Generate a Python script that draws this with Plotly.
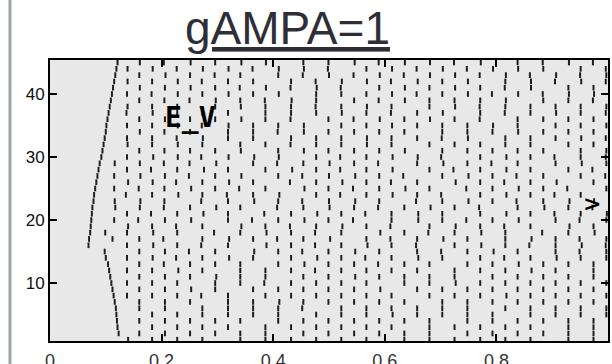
import plotly.graph_objects as go

# ---- data (spike times in ms for each neuron, read from the raster) ----
n45 = [121, 161, 204, 252, 296, 343, 387, 454, 499, 546, 589, 636, 681, 724, 772, 838, 883, 930, 973]
n44 = [119, 139, 184, 227, 274, 320, 363, 410, 455, 498, 567, 613, 657, 704, 747, 794, 839, 884, 951, 996]
n43 = [117, 160, 207, 251, 295, 341, 409, 453, 500, 544, 591, 634, 681, 726, 770, 817, 860, 907, 950, 997]
n42 = [115, 139, 183, 229, 272, 319, 364, 432, 476, 523, 568, 611, 659, 703, 749, 816, 862, 905, 952, 996]
n41 = [113, 161, 206, 252, 296, 340, 387, 431, 478, 521, 590, 636, 680, 726, 771, 815, 862, 929, 974]
n40 = [111, 138, 182, 229, 273, 320, 364, 410, 477, 522, 567, 613, 657, 703, 749, 792, 839, 883, 930, 975]
n39 = [109, 160, 205, 250, 297, 341, 385, 433, 477, 545, 589, 636, 680, 725, 771, 817, 884, 929, 973]
n38 = [107, 139, 183, 228, 296, 342, 386, 432, 476, 522, 568, 612, 680, 726, 770, 816, 861, 906, 951, 997]
n37 = [105, 137, 184, 228, 273, 319, 386, 432, 477, 523, 567, 611, 658, 704, 771, 815, 861, 907, 951, 996]
n36 = [103, 160, 206, 251, 296, 343, 386, 431, 499, 544, 591, 635, 681, 725, 770, 838, 884, 929, 974]
n35 = [101, 138, 183, 229, 272, 320, 364, 409, 455, 522, 567, 613, 658, 703, 748, 794, 838, 906, 951, 997]
n34 = [100, 161, 205, 251, 319, 364, 408, 455, 499, 545, 590, 635, 703, 748, 793, 839, 884, 929, 974]
n33 = [98, 138, 183, 227, 274, 319, 364, 432, 477, 522, 568, 612, 658, 702, 749, 816, 861, 906, 952, 996]
n32 = [96, 139, 183, 229, 273, 341, 386, 431, 477, 522, 568, 612, 680, 725, 771, 816, 861, 929, 974]
n31 = [94, 160, 205, 251, 296, 342, 409, 455, 499, 545, 590, 636, 703, 748, 793, 838, 884, 951, 997]
n30 = [92, 138, 185, 229, 271, 320, 366, 410, 477, 520, 567, 614, 659, 701, 771, 818, 861, 904, 951, 996]
n29 = [89, 116, 161, 204, 250, 298, 364, 407, 454, 501, 545, 588, 658, 705, 748, 791, 838, 906, 953, 997]
n28 = [87, 138, 181, 228, 276, 319, 386, 434, 477, 520, 567, 614, 680, 723, 771, 818, 861, 929, 972]
n27 = [85, 115, 162, 206, 249, 296, 343, 409, 452, 500, 547, 590, 633, 703, 750, 793, 836, 884, 951, 995]
n26 = [83, 140, 184, 226, 273, 321, 364, 430, 477, 524, 567, 611, 658, 727, 771, 814, 861, 908, 974]
n25 = [81, 115, 159, 205, 253, 296, 339, 386, 456, 499, 543, 590, 637, 680, 746, 793, 840, 884, 927, 997]
n24 = [79, 136, 183, 230, 273, 317, 364, 411, 477, 520, 567, 614, 658, 701, 771, 818, 861, 904, 951]
n23 = [78, 116, 162, 205, 271, 319, 366, 409, 452, 500, 547, 590, 656, 703, 750, 793, 836, 884, 931, 975]
n22 = [76, 117, 161, 204, 251, 298, 341, 407, 454, 501, 545, 588, 635, 682, 725, 769, 838, 886, 929, 972]
n21 = [75, 138, 181, 228, 275, 319, 384, 432, 479, 522, 565, 612, 660, 703, 771, 818, 861, 904, 951, 998]
n20 = [74, 115, 158, 206, 253, 319, 362, 409, 456, 499, 543, 612, 660, 703, 746, 793, 840, 906, 949, 997]
n19 = [73, 140, 183, 226, 273, 343, 386, 430, 477, 524, 567, 610, 680, 727, 771, 814, 861, 931, 974]
n18 = [72, 99, 138, 185, 228, 294, 341, 388, 432, 475, 522, 592, 635, 678, 725, 773, 816, 882, 929, 976]
n17 = [70, 112, 160, 203, 273, 321, 364, 407, 454, 502, 567, 610, 658, 705, 748, 816, 863, 906, 949, 997]
n16 = [69, 138, 185, 228, 271, 319, 388, 432, 475, 522, 569, 612, 656, 725, 773, 816, 859, 906, 953, 996]
n15 = [98, 160, 206, 249, 296, 366, 409, 452, 499, 547, 590, 658, 701, 748, 795, 838, 906, 949, 997]
n14 = [100, 138, 184, 226, 273, 321, 364, 432, 479, 522, 565, 612, 660, 703, 771, 814, 861, 908, 951, 997]
n13 = [104, 160, 204, 251, 296, 341, 409, 456, 499, 545, 588, 635, 680, 748, 793, 840, 884, 929, 974]
n12 = [106, 138, 183, 230, 273, 341, 386, 432, 475, 522, 567, 612, 658, 725, 771, 816, 863, 906, 974]
n11 = [108, 160, 206, 251, 298, 341, 386, 454, 499, 547, 590, 635, 680, 725, 793, 838, 884, 929, 974]
n10 = [110, 138, 183, 228, 296, 341, 384, 432, 477, 522, 567, 635, 680, 727, 771, 816, 861, 906, 951, 997]
n09 = [112, 160, 206, 253, 296, 364, 409, 454, 499, 545, 592, 658, 703, 748, 793, 838, 884, 929, 974]
n08 = [114, 138, 183, 228, 271, 319, 386, 432, 477, 522, 567, 612, 680, 725, 771, 818, 861, 906, 951, 997]
n07 = [116, 160, 206, 251, 319, 364, 411, 454, 499, 545, 590, 635, 703, 748, 793, 838, 884, 929, 974]
n06 = [118, 160, 206, 273, 319, 364, 409, 452, 522, 567, 612, 658, 703, 748, 816, 861, 906, 951, 997]
n05 = [119, 183, 228, 273, 319, 364, 409, 477, 522, 567, 614, 658, 703, 748, 793, 861, 906, 951, 997]
n04 = [120, 160, 206, 251, 296, 341, 409, 454, 499, 545, 590, 635, 680, 748, 793, 838, 884, 929, 974]
n03 = [121, 183, 228, 273, 319, 386, 432, 477, 522, 567, 612, 680, 725, 771, 816, 861, 929, 974]
n02 = [123, 160, 206, 251, 296, 341, 386, 454, 499, 545, 590, 635, 680, 748, 793, 838, 884, 929, 974]
n01 = [140, 183, 228, 273, 341, 386, 432, 477, 522, 567, 635, 680, 725, 771, 816, 861, 929, 974]

trains = [n01, n02, n03, n04, n05, n06, n07, n08, n09, n10,
          n11, n12, n13, n14, n15, n16, n17, n18, n19, n20,
          n21, n22, n23, n24, n25, n26, n27, n28, n29, n30,
          n31, n32, n33, n34, n35, n36, n37, n38, n39, n40,
          n41, n42, n43, n44, n45]
neuron_ids = list(range(1, 46))

x_ticks = [0, 0.2, 0.4, 0.6, 0.8, 1]
x_tick_labels = ["0", "0.2", "0.4", "0.6", "0.8", "1"]
y_ticks = [10, 20, 30, 40]
y_tick_labels = ["10", "20", "30", "40"]
title_text = "gAMPA=1"

# ---- build tick-mark segments ----
xs, ys = [], []
half = 0.45
for nid, train in zip(neuron_ids, trains):
    for t in train:
        s = t / 1000.0
        xs += [s, s, None]
        ys += [nid - half, nid + half, None]

fig = go.Figure()
fig.add_trace(go.Scatter(x=xs, y=ys, mode="lines",
                         line=dict(color="#1e1e1e", width=2),
                         hoverinfo="skip", showlegend=False))

fig.update_layout(
    width=612, height=364,
    margin=dict(l=50, r=4, t=60, b=23, autoexpand=False),
    paper_bgcolor="white",
    plot_bgcolor="#e8e8e8",
    showlegend=False,
    font=dict(family="Liberation Sans, Arial, sans-serif", color="#222"),
)
fig.update_xaxes(range=[0, 1], tickvals=x_ticks, ticktext=x_tick_labels,
                 showgrid=False, zeroline=False, automargin=False,
                 showline=True, linecolor="black", linewidth=2, mirror="ticks",
                 ticks="inside", ticklen=7, tickwidth=2, tickcolor="black",
                 tickfont=dict(size=18, color="#333"), ticklabelstandoff=2)
fig.update_yaxes(range=[0.8, 45.4], tickvals=y_ticks, ticktext=y_tick_labels,
                 showgrid=False, zeroline=False, automargin=False,
                 showline=True, linecolor="black", linewidth=2, mirror="ticks",
                 ticks="inside", ticklen=7, tickwidth=2, tickcolor="black",
                 tickfont=dict(size=17, color="#111"), ticklabelstandoff=0)

# title (underlined)
fig.add_annotation(xref="paper", yref="paper", x=0.425, y=1.115,
                   text="<u>" + title_text + "</u>", showarrow=False,
                   xanchor="center", yanchor="middle",
                   font=dict(family="Liberation Sans, Arial", size=46, color="#2e2e36"))
# in-plot labels
fig.add_annotation(x=0.251, y=36.2, text="<b>E_V</b>", showarrow=False,
                   xanchor="center", yanchor="middle",
                   font=dict(family="DejaVu Sans Mono", size=28, color="black"))
fig.add_annotation(x=0.972, y=22.7, text="<b>&gt;</b>", showarrow=False,
                   xanchor="center", yanchor="middle",
                   font=dict(family="DejaVu Sans", size=22, color="black"))

# slide border line on the left
fig.add_shape(type="line", xref="paper", yref="paper",
              x0=-0.0717, x1=-0.0717, y0=-0.3, y1=1.4,
              line=dict(color="#9aa8a2", width=3))

fig.write_html("out.html")
